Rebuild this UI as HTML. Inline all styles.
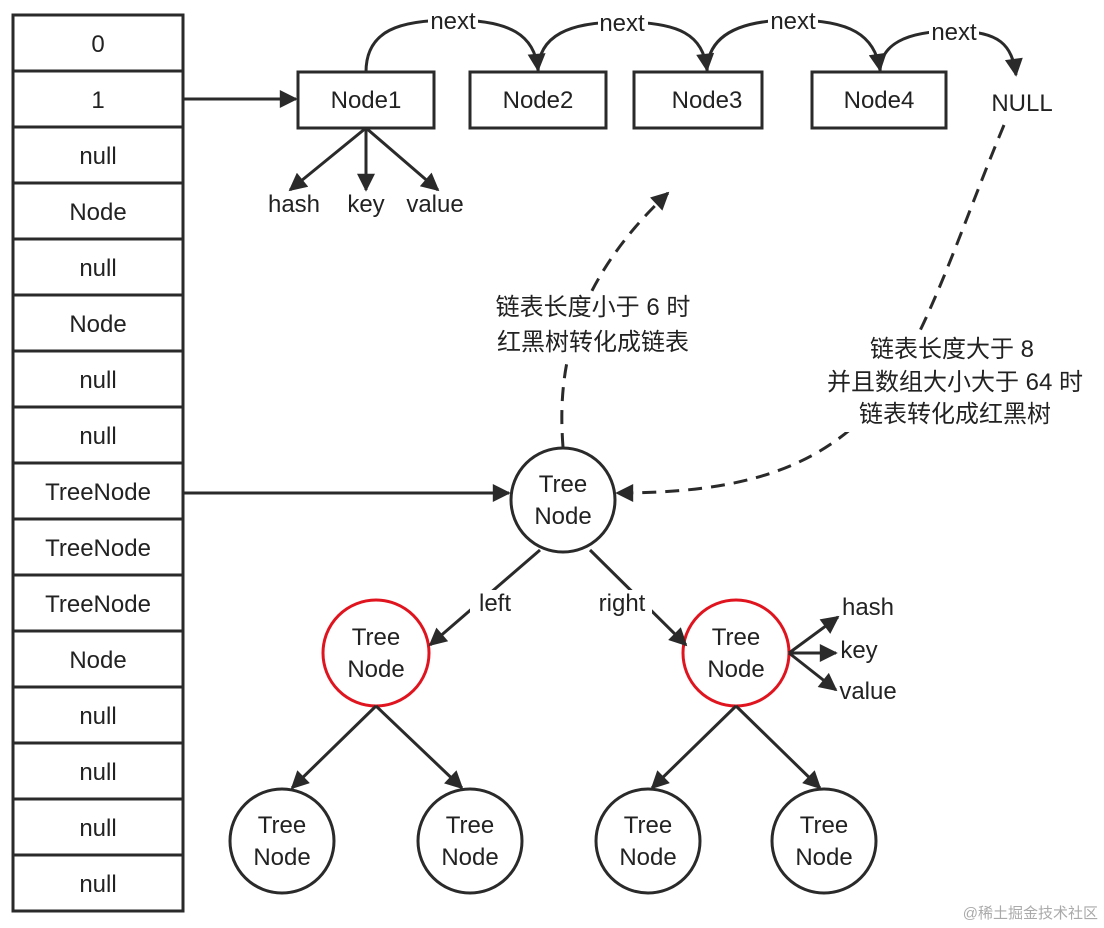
<!DOCTYPE html>
<html><head><meta charset="utf-8"><style>
html,body{margin:0;padding:0;background:#fff;}
svg{display:block;}
text{font-family:"Liberation Sans","Noto Sans CJK SC",sans-serif;fill:#222;}
</style></head><body>
<svg width="1104" height="928" viewBox="0 0 1104 928" xmlns="http://www.w3.org/2000/svg">
<defs>
<marker id="a" viewBox="0 0 10 10" refX="9" refY="5" markerWidth="7" markerHeight="6" orient="auto" markerUnits="strokeWidth"><path d="M0,0 L10,5 L0,10 z" fill="#2a2a2a"/></marker>
</defs>
<g stroke="#2a2a2a" stroke-width="3" fill="none">
<rect x="13" y="15" width="170" height="896"/>
<path d="M13 71H183M13 127H183M13 183H183M13 239H183M13 295H183M13 351H183M13 407H183M13 463H183M13 519H183M13 575H183M13 631H183M13 687H183M13 743H183M13 799H183M13 855H183"/>
<rect x="298" y="72" width="136" height="56"/>
<rect x="470" y="72" width="136" height="56"/>
<rect x="634" y="72" width="128" height="56"/>
<rect x="812" y="72" width="134" height="56"/>
<circle cx="563" cy="500" r="52"/>
<circle cx="282" cy="841" r="52"/>
<circle cx="470" cy="841" r="52"/>
<circle cx="648" cy="841" r="52"/>
<circle cx="824" cy="841" r="52"/>
</g>
<g stroke="#e0141e" stroke-width="3" fill="none">
<circle cx="376" cy="653" r="53"/>
<circle cx="736" cy="653" r="53"/>
</g>
<g stroke="#2a2a2a" stroke-width="3" fill="none" stroke-dasharray="14,9" marker-end="url(#a)">
<path d="M563 447C558 380 565 290 668 193"/>
<path d="M1004 125C960 230 930 330 880 400C820 470 740 493 617 493"/>
</g>
<g fill="#fff">
<rect x="480" y="292" width="226" height="66"/>
<rect x="808" y="336" width="292" height="96"/>
<rect x="470" y="588" width="52" height="30"/>
<rect x="592" y="588" width="62" height="30"/>
<rect x="426" y="8" width="54" height="24"/>
<rect x="596" y="10" width="54" height="24"/>
<rect x="766" y="8" width="54" height="24"/>
<rect x="927" y="20" width="54" height="24"/>
</g>
<g stroke="#2a2a2a" stroke-width="3" fill="none" marker-end="url(#a)">
<path d="M183 99H296"/>
<path d="M183 493H509"/>
<path d="M366 72C366 30 400 20 453 20C510 20 535 35 538 70"/>
<path d="M538 72C538 35 570 22 622 22C680 22 703 35 707 70"/>
<path d="M707 72C707 35 740 20 793 20C850 20 875 35 880 70"/>
<path d="M880 72C880 45 905 31 954 31C1000 31 1012 45 1016 75"/>
<path d="M366 128L290 190"/>
<path d="M366 128V190"/>
<path d="M366 128L438 190"/>
<path d="M540 550L430 645"/>
<path d="M590 550L686 645"/>
<path d="M789 653L838 617"/>
<path d="M789 653H836"/>
<path d="M789 653L836 690"/>
<path d="M376 706L292 788"/>
<path d="M376 706L462 788"/>
<path d="M736 706L652 788"/>
<path d="M736 706L820 788"/>
</g>
<g fill="#fff">
<rect x="470" y="590" width="50" height="26"/>
<rect x="594" y="590" width="58" height="26"/>
<rect x="428" y="10" width="50" height="22"/>
<rect x="598" y="12" width="50" height="22"/>
<rect x="768" y="10" width="50" height="22"/>
<rect x="929" y="22" width="50" height="22"/>
</g>
<g font-size="24" text-anchor="middle">
<text x="98" y="52">0</text><text x="98" y="108">1</text><text x="98" y="164">null</text>
<text x="98" y="220">Node</text><text x="98" y="276">null</text><text x="98" y="332">Node</text>
<text x="98" y="388">null</text><text x="98" y="444">null</text><text x="98" y="500">TreeNode</text>
<text x="98" y="556">TreeNode</text><text x="98" y="612">TreeNode</text><text x="98" y="668">Node</text>
<text x="98" y="724">null</text><text x="98" y="780">null</text><text x="98" y="836">null</text><text x="98" y="892">null</text>
<text x="366" y="108">Node1</text><text x="538" y="108">Node2</text><text x="707" y="108">Node3</text><text x="879" y="108">Node4</text>
<text x="1022" y="111">NULL</text>
<text x="453" y="29">next</text><text x="622" y="31">next</text><text x="793" y="29">next</text><text x="954" y="40">next</text>
<text x="294" y="212">hash</text><text x="366" y="212">key</text><text x="435" y="212">value</text>
<text x="563" y="492">Tree</text><text x="563" y="524">Node</text>
<text x="376" y="645">Tree</text><text x="376" y="677">Node</text>
<text x="736" y="645">Tree</text><text x="736" y="677">Node</text>
<text x="282" y="833">Tree</text><text x="282" y="865">Node</text>
<text x="470" y="833">Tree</text><text x="470" y="865">Node</text>
<text x="648" y="833">Tree</text><text x="648" y="865">Node</text>
<text x="824" y="833">Tree</text><text x="824" y="865">Node</text>
<text x="495" y="611">left</text><text x="622" y="611">right</text>
<text x="868" y="615">hash</text><text x="859" y="658">key</text><text x="868" y="699">value</text>
<text x="593" y="315">链表长度小于 6 时</text><text x="593" y="350">红黑树转化成链表</text>
<text x="952" y="357">链表长度大于 8</text><text x="955" y="390">并且数组大小大于 64 时</text><text x="955" y="422">链表转化成红黑树</text>
</g>
<text x="1098" y="918" font-size="15" text-anchor="end" style="fill:#aaa">@稀土掘金技术社区</text>
</svg>
</body></html>
